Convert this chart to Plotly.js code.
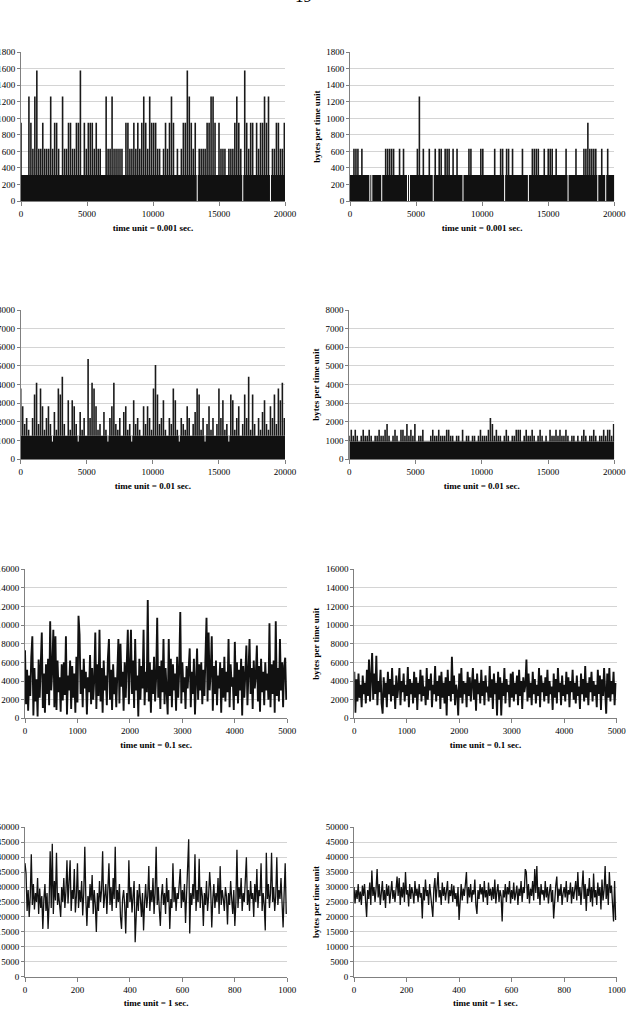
<!DOCTYPE html>
<html><head><meta charset="utf-8">
<script src="https://cdn.plot.ly/plotly-3.0.1.min.js"></script>
<style>html,body{margin:0;padding:0;background:#fff;}#chart{width:628px;height:1035px;}</style>
</head><body><div id="chart"></div>
<script>
// ---------------- DATA ----------------
const pageNumber = "19";
const yTitle = "bytes per time unit";
const xTitles = ["time unit = 0.001 sec.", "time unit = 0.001 sec.", "time unit = 0.01 sec.", "time unit = 0.01 sec.",
                 "time unit = 0.1 sec.", "time unit = 0.1 sec.", "time unit = 1 sec.", "time unit = 1 sec."];

// quantised panels (rows 1-2): one sample per 150 time units, plus the level every sample reaches
const sampleStepQ = 150;
const timeMaxQ = 20000;
const floorA = 316, floorB = 316, floorC = 1264, floorD = 948;
const valsA = [948,316,316,316,1264,948,632,1264,1580,632,
 632,948,632,632,632,1264,632,948,948,632,
 316,1264,632,632,948,948,632,632,948,948,
 1580,316,948,632,948,948,948,632,948,632,
 632,316,316,1264,632,632,1264,632,632,632,
 632,632,316,948,948,632,632,948,632,948,
 632,948,1264,948,632,1264,948,948,948,632,
 632,316,632,948,632,948,1264,948,316,632,
 316,632,948,948,1580,1264,948,632,948,0,
 632,632,632,632,948,948,1264,1264,948,316,
 948,632,632,632,316,632,632,632,948,1264,
 948,632,0,1580,948,632,948,948,316,948,
 632,948,948,1264,948,1264,0,632,632,948,
 948,632,632,948];
const valsB = [316,316,632,632,632,316,632,316,316,316,
 0,0,316,316,316,316,0,316,632,632,
 632,632,632,316,316,632,316,632,316,0,
 0,316,316,316,632,1264,316,632,316,316,
 632,316,0,632,316,632,632,316,632,632,
 632,316,632,316,632,316,316,0,316,316,
 632,632,316,316,316,316,632,632,316,316,
 316,316,316,632,316,316,632,632,0,632,
 632,316,632,316,316,316,316,632,316,316,
 0,316,632,632,632,632,316,316,632,316,
 632,632,632,316,632,316,316,316,316,632,
 0,316,316,316,632,316,316,316,632,632,
 948,632,632,632,632,0,316,632,316,0,
 632,316,316,316];
const valsC = [3792,2844,1896,2212,1580,1264,2212,3476,4108,1896,
 3792,2844,1580,2212,2844,1896,948,2528,1580,3792,
 3476,4424,1896,1264,3160,1580,3160,2844,1896,948,
 2528,1580,2212,1264,5372,2212,4108,3792,2844,1580,
 1896,1264,2528,1580,948,2212,2844,4108,1896,1580,
 2212,1264,2528,2844,1580,1896,948,3160,1896,2212,
 1580,1264,2844,1896,2844,2212,1580,3792,5056,3476,
 1896,2212,3160,1580,1264,2212,1896,3792,3160,1580,
 948,2212,1896,1580,2844,2212,1264,1896,2528,3792,
 3476,1580,2212,948,1896,2844,1580,2212,1264,1896,
 3792,2212,3160,1580,1896,948,3476,3160,1580,2212,
 2844,1264,1896,3476,2212,4424,1580,3476,1896,1264,
 2212,1580,2528,3160,1896,1580,2844,2212,3476,1896,
 3792,3160,4108,2212];
const valsD = [1264,1580,1264,1580,1264,948,1264,1580,1264,1264,
 1580,1264,948,1264,1264,1580,1264,1264,1580,1896,
 1264,948,1264,1580,1264,948,1580,1580,1264,1896,
 1264,1580,1264,1896,948,1264,1264,1580,948,948,
 948,1264,1580,1264,1264,1580,1264,1264,1264,1580,
 1580,1264,1264,948,1264,1264,948,1580,948,1264,
 1264,948,1264,1264,948,1264,1580,1264,1264,1264,
 1580,2212,1896,1264,1580,1264,1264,948,1264,1580,
 1264,948,1264,1264,1580,1580,1580,948,1264,1580,
 1264,1264,1580,1264,948,1264,1580,1264,948,1264,
 948,1580,1264,1264,1580,1264,1580,1264,1264,1580,
 1264,948,1264,1264,948,1264,948,1264,1580,1264,
 948,1264,1264,1580,1264,948,1264,1264,1580,1264,
 1580,1580,1264,1896];

// row 3: one sample per 20 time units (0.1 s panels)
const sampleStepE = 20;
const valsE = [7300,1500,5200,800,4600,2400,6600,8800,300,5400,
 1800,4200,200,6300,2200,5600,9200,1100,4800,600,
 5800,2600,6400,1400,10400,3000,5200,9500,1200,8800,
 900,6200,2800,4400,700,5800,1900,6000,2500,8800,
 400,4600,3000,6200,1000,5600,2200,4800,600,6600,
 1700,11000,9000,2600,5200,1200,6400,3200,5000,400,
 4400,2800,6800,1500,5400,2000,4200,9200,1000,5800,
 2400,9500,1800,5400,600,6200,3000,4600,1400,6400,
 8500,2000,5200,900,5800,2600,4400,1200,6600,8500,
 1600,8000,3400,5000,800,6000,2200,5400,9500,1500,
 4800,9500,2600,6200,1100,8500,3000,4600,200,6400,
 2000,5600,3200,9500,1400,5000,2800,12700,1800,6000,
 600,5200,2600,6600,1800,4400,10800,2200,5600,1000,
 6200,2800,8500,1500,5400,3400,400,8500,2400,6400,
 1200,5800,3000,4800,800,6600,2200,5200,11400,1600,
 6000,2800,4400,1000,5600,3200,6200,7500,1200,5000,
 2600,6400,400,4800,7500,2000,5800,3000,6000,1500,
 5200,2400,6400,10800,1800,9200,3000,5000,8800,800,
 5600,2600,6200,1400,4600,3200,6000,600,5400,2200,
 6600,1800,5000,2800,8500,1200,5800,3400,4400,900,
 8200,2400,6000,1600,5200,3000,6400,300,5600,2200,
 4800,7800,1400,6000,8500,2600,5400,1000,6200,3200,
 4600,7800,1800,5600,700,6400,2800,5000,1400,6000,
 3000,4800,2000,10200,1200,5800,2600,6200,600,10400,
 2400,5400,1800,8500,3000,6000,1200,5600,6500,2000];
const valsF = [5000,600,4200,1800,4800,2200,3600,1200,4600,2600,
 3800,1600,5200,2400,6300,1800,4400,7000,2000,4800,
 2600,6700,1400,4000,2800,5200,1600,500,4400,2200,
 3800,1200,5000,2600,4200,1800,5400,2400,3600,1000,
 4600,2200,3400,5400,1400,4000,2800,4800,1800,3600,
 2400,5500,1200,4200,2600,3800,1600,5000,2200,4400,
 900,3800,2600,5200,1800,4600,2400,3400,1400,5400,
 2000,4200,3000,4800,1200,3600,2600,5600,1800,4000,
 2400,4600,1000,5000,2200,3800,1600,4400,300,5200,
 2400,4000,1800,6600,2600,4600,1400,3600,2800,300,
 4800,2200,5400,1600,4000,2600,3800,1200,5000,2400,
 4400,1800,3600,5400,2000,4200,800,4800,2600,3800,
 1600,5200,2400,4000,1400,4600,2800,3400,1800,5600,
 2200,4200,1000,4800,2600,3800,300,5000,2000,4400,
 300,3800,2400,5400,1600,4200,2800,3600,1200,4800,
 2200,5000,1800,3800,2600,4600,1400,5200,2400,4000,
 1000,4400,2800,3600,6300,1800,4800,2200,3800,1400,
 5000,2600,4200,1600,3600,2400,5400,1200,4600,2800,
 3800,1800,4400,2400,5200,1600,4000,2600,3400,900,
 4800,2200,4200,1600,5400,2800,3800,1400,4600,2400,
 3600,1800,5000,2600,4400,1200,4000,2800,5200,2000,
 3800,1600,4600,2400,3400,1000,4800,2600,4200,1800,
 5600,2200,3800,1400,4400,2800,5000,1800,4000,2400,
 3600,1200,5200,2600,4600,900,4200,2400,5400,1600,
 500,4800,2200,5400,1800,4000,2600,5000,1400,3800];

// row 4: one sample per 4 time units (1 s panels)
const sampleStepG = 4;
const valsG = [38000,34500,22000,29000,20000,27000,41000,24000,31000,22500,
 28000,25000,33000,21000,29500,23000,27000,16000,26000,31000,
 22000,28000,16000,25000,42000,23000,44500,21000,32000,25500,
 41500,24000,28000,22500,20000,30000,25000,33000,23000,28500,
 39000,24500,31000,39000,22000,29000,26000,36000,21500,27000,
 38000,23000,29000,25000,32000,20500,28000,43500,26000,17000,
 27000,23000,31000,25500,34000,21000,29000,24000,15000,28000,
 22000,32000,25000,29000,42000,23000,27000,31000,21000,28000,
 38000,24000,30000,22000,33000,26000,43500,23000,29000,25000,
 31000,20000,16000,26000,29000,24000,14500,28000,23000,39000,
 25000,30000,21500,27000,32000,11500,24000,29000,22000,31000,
 26000,20000,28000,15500,25000,31000,23000,27000,37000,22000,
 29000,25000,33000,21000,28000,43500,24000,30000,22500,17000,
 27000,31000,24000,28000,21000,33000,25000,29000,16000,26000,
 23000,38000,25000,30000,22000,28000,26000,32000,36000,23000,
 29000,25000,31000,18000,27000,33000,46000,14500,28000,24000,
 31000,26000,41000,22000,29000,25000,39500,23000,30000,27000,
 17000,28000,24000,32000,22000,27000,35000,29000,16500,26000,
 31000,23000,28000,25000,33000,21000,37000,24000,29000,26000,
 22000,30000,27000,17500,28000,24000,32000,26000,21000,29000,
 17000,25000,42500,23000,30000,26000,33000,22000,28000,25000,
 31000,40000,24000,29000,22000,32000,26000,28000,20000,31000,
 25000,36000,23000,29000,27000,38000,22000,28000,24000,15500,
 41500,26000,31000,23000,28000,41500,25000,30000,22000,27000,
 40000,24000,29000,26000,33000,21000,16500,28000,38000,21000];
const valsH = [30000,24500,29000,26000,31000,25000,28500,24000,30500,27000,
 31000,25500,20000,29000,26000,31500,24000,35500,27000,30000,
 25000,29500,36000,26500,31000,24000,28000,32000,25500,29000,
 23000,31000,27000,30500,24500,28500,32000,26000,29000,25000,
 31000,33500,27000,33000,24000,30000,26500,31500,25000,35000,
 27500,29000,23500,31000,26000,30000,28000,24500,32000,27000,
 29500,25000,31000,26500,28000,19500,30000,25500,32500,27000,
 29000,24000,31000,27500,26000,20000,29500,33000,25000,30000,
 35000,26500,29000,24000,31500,27000,30000,25500,28500,32000,
 24500,29000,27000,31000,25000,30500,26000,28000,23500,30000,
 19000,28000,31000,25500,29500,27000,32000,35000,24500,30000,
 26500,31000,25000,29000,27500,32500,24000,21000,29000,26000,
 31000,27500,30000,25000,32000,26500,29000,24000,31500,27000,
 29500,25500,30000,26000,32500,24500,28500,31000,25000,29000,
 27000,18500,29000,26500,31000,25000,30000,27500,32000,24500,
 29000,26000,31500,25500,28000,30500,24000,29500,27000,32000,
 25000,30000,28000,36000,35000,26000,31000,24500,29500,27000,
 32000,25500,36000,28000,37000,26000,30000,24000,31000,27500,
 29000,25500,32000,26500,30000,24500,28500,31000,25000,29000,
 19500,28000,30500,33500,25000,29500,27000,31000,24000,28000,
 30000,26500,32000,25000,29000,27500,31500,24500,30000,26000,
 28500,32000,25500,35000,27000,30000,24000,29000,35500,26000,
 31000,22000,29500,27000,33000,25000,30000,23500,34500,26500,
 29000,24000,31500,27000,30000,22500,32500,25500,29000,37000,
 26000,31000,24000,35000,28000,30500,25000,18500,32000,19000];

// axis ranges / tick steps per panel
const xRanges = [[0,20000],[0,20000],[0,20000],[0,20000],[0,5000],[0,5000],[0,1000],[0,1000]];
const xSteps  = [5000,5000,5000,5000,1000,1000,200,200];
const yRanges = [[0,1800],[0,1800],[0,8000],[0,8000],[0,16000],[0,16000],[0,50000],[0,50000]];
const ySteps  = [200,200,1000,1000,2000,2000,5000,5000];

// ---------------- DRAWING ----------------
const FONT = 'Liberation Serif, "Times New Roman", serif';
const W = 628, H = 1035;
// plot boxes in page pixels [left, right, top, bottom]
const boxes = [
  [21,285,52.3,201],[350,614.3,52.3,201],
  [20.7,285,310,459.3],[349.3,614.3,310,459.3],
  [25,287.3,569.2,718.3],[354.3,616.7,569.2,718.3],
  [25,287.3,827.3,976.7],[354,616.7,827.3,976.7]
];
const lineWidths = [1.6,1.6,1.6,1.6,1.9,1.9,1.3,1.3];
function ax(n, kind){ return n===1 ? kind : kind + n; }

function quantTraces(vals, step, floor, tmax, n){
  const ux=[],uy=[],gx=[],gy=[];
  vals.forEach((v,i)=>{
    const t=i*step;
    if(v>floor){ux.push(t,t,null);uy.push(floor,v,null);}
    else if(v<floor){gx.push(t,t,null);gy.push(v,floor,null);}
  });
  const xa=ax(n,'x'), ya=ax(n,'y');
  return [
    {type:'scatter',mode:'lines',x:[0,tmax],y:[floor,floor],fill:'tozeroy',fillcolor:'#111',
     line:{width:0,color:'#111'},xaxis:xa,yaxis:ya,hoverinfo:'skip',showlegend:false},
    {type:'scatter',mode:'lines',x:gx,y:gy,line:{color:'#fff',width:1},xaxis:xa,yaxis:ya,hoverinfo:'skip',showlegend:false},
    {type:'scatter',mode:'lines',x:ux,y:uy,line:{color:'#1a1a1a',width:lineWidths[n-1]},xaxis:xa,yaxis:ya,hoverinfo:'skip',showlegend:false}
  ];
}
function lineTrace(vals, step, n){
  return {type:'scatter',mode:'lines',x:vals.map((_,i)=>i*step),y:vals,
    line:{color:'#111',width:lineWidths[n-1]},xaxis:ax(n,'x'),yaxis:ax(n,'y'),hoverinfo:'skip',showlegend:false};
}

const data = [].concat(
  quantTraces(valsA, sampleStepQ, floorA, timeMaxQ, 1),
  quantTraces(valsB, sampleStepQ, floorB, timeMaxQ, 2),
  quantTraces(valsC, sampleStepQ, floorC, timeMaxQ, 3),
  quantTraces(valsD, sampleStepQ, floorD, timeMaxQ, 4),
  [lineTrace(valsE, sampleStepE, 5), lineTrace(valsF, sampleStepE, 6),
   lineTrace(valsG, sampleStepG, 7), lineTrace(valsH, sampleStepG, 8)]
);

const layout = {
  width: W, height: H, margin:{l:0,r:0,t:0,b:0}, paper_bgcolor:'#fff', plot_bgcolor:'#fff',
  showlegend:false, font:{family:FONT,size:9,color:'#000'},
  annotations:[{text:pageNumber,xref:'paper',yref:'paper',x:303/W,y:1-8/H,xanchor:'center',yanchor:'bottom',
    showarrow:false,font:{family:FONT,size:17,color:'#000'}}]
};
for(let k=0;k<8;k++){
  const n=k+1, b=boxes[k], rightCol = (k%2===1);
  layout[ax(n,'xaxis')] = {
    domain:[b[0]/W,b[1]/W], range:xRanges[k], autorange:false, tick0:0, dtick:xSteps[k], tickformat:'d',
    showgrid:false, zeroline:false, showline:true, linecolor:'#808080', linewidth:1,
    ticks:'outside', ticklen:4, tickcolor:'#808080', tickfont:{family:FONT,size:9,color:'#000'},
    title:{text:xTitles[k], font:{family:FONT,size:9,color:'#000',weight:'bold'}, standoff:6},
    anchor:ax(n,'y'), fixedrange:true, automargin:false
  };
  layout[ax(n,'yaxis')] = {
    domain:[1-b[3]/H,1-b[2]/H], range:yRanges[k], autorange:false, tick0:0, dtick:ySteps[k], tickformat:'d',
    showgrid:true, gridcolor:'#d4d4d4', gridwidth:1, zeroline:false, showline:true, linecolor:'#808080', linewidth:1,
    ticks:'outside', ticklen:3, tickcolor:'#808080', tickfont:{family:FONT,size:9,color:'#000'},
    // the left column's axis title lies beyond the page edge in the reference, so only the right column shows it
    title:{text: rightCol ? yTitle : '', font:{family:FONT,size:9,color:'#000',weight:'bold'}, standoff:4},
    anchor:ax(n,'x'), fixedrange:true, automargin:false
  };
}
Plotly.newPlot('chart', data, layout, {staticPlot:true, displayModeBar:false});
</script>
</body></html>
